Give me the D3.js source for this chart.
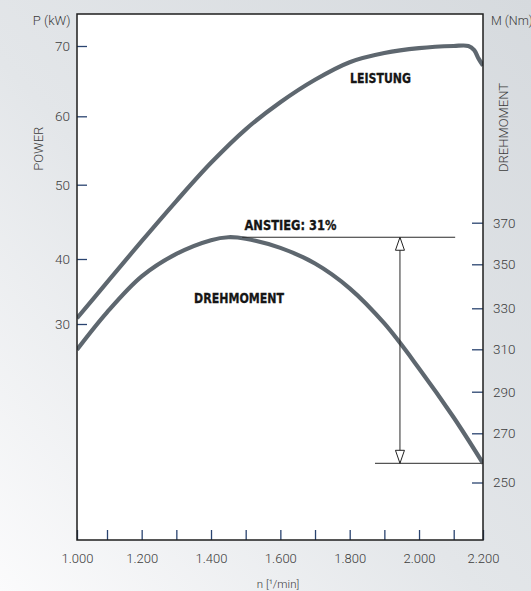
<!DOCTYPE html>
<html>
<head>
<meta charset="utf-8">
<script src="https://cdn.jsdelivr.net/npm/d3@7"></script>
<style>
  html, body { margin: 0; padding: 0; background: #fff; }
  svg { display: block; }
</style>
</head>
<body>
<svg id="viz" width="531" height="591"></svg>
<script>
// engine chart: power (P) and torque (M) over engine speed n

// ---- data ----
const rpmTicks = [1000, 1100, 1200, 1300, 1400, 1500, 1600, 1700, 1800, 1900, 2000, 2100, 2200];
const rpmLabels = { 1000: "1.000", 1200: "1.200", 1400: "1.400", 1600: "1.600", 1800: "1.800", 2000: "2.000", 2200: "2.200" };
const powerTicks = [30, 40, 50, 60, 70];
const torqueTicks = [250, 270, 290, 310, 330, 350, 370];

// LEISTUNG (kW)
const powerRpm = [1000, 1100, 1200, 1300, 1400, 1500, 1600, 1700, 1800, 1900, 2000, 2100, 2150, 2170, 2185, 2200];
const powerKw  = [30.9, 36.4, 42.4, 47.8, 53.2, 58.1, 62.0, 65.2, 67.7, 69.0, 69.7, 70.0, 70.0, 69.4, 68.2, 67.2];

// DREHMOMENT (Nm)
const torqueRpm = [1000, 1100, 1200, 1300, 1400, 1450, 1500, 1600, 1700, 1800, 1900, 2000, 2100, 2200];
const torqueNm  = [309.8, 328.0, 344.5, 355.0, 361.6, 363.0, 362.3, 357.9, 350.4, 339.1, 322.6, 301.0, 277.6, 257.8];

// torque rise annotation
const riseText = "ANSTIEG: 31%";
const riseTop = { nm: 363, from: 1490, to: 2105 };
const riseBottom = { nm: 257.8, from: 1873, to: 2200 };
const riseArrowRpm = 1945;

// ---- layout ----
const svg = d3.select("#viz");
const width = 531, height = 591;
const plot = { left: 77, right: 483, top: 14, bottom: 540 };

const lightFont = "Roboto, 'Liberation Sans', sans-serif";
const boldFont = "'DejaVu Sans Condensed', 'DejaVu Sans', sans-serif";

// scales (the drawing is not quite linear, so piecewise)
const x = d3.scaleLinear()
  .domain([1000, 1100, 2100, 2200])
  .range([plot.left, 107, 453.7, plot.right]);
const yP = d3.scaleLinear()
  .domain([30, 40, 50, 60, 70])
  .range([324, 259, 184.7, 116.3, 46]);
const yM = d3.scaleLinear()
  .domain([250, 270, 290, 310, 330, 350, 370])
  .range([482.5, 433.3, 391.7, 349.3, 308.3, 264.3, 222.7]);

const defs = svg.append("defs");

// background gradient
const bg = defs.append("linearGradient").attr("id", "bgGrad")
  .attr("x1", "0").attr("y1", "1").attr("x2", "1").attr("y2", "0");
bg.append("stop").attr("offset", "0%").attr("stop-color", "#fbfbfc");
bg.append("stop").attr("offset", "45%").attr("stop-color", "#e3e6e9");
bg.append("stop").attr("offset", "100%").attr("stop-color", "#d6dade");

svg.append("rect").attr("width", width).attr("height", height).attr("fill", "url(#bgGrad)");

// clip for curves
defs.append("clipPath").attr("id", "plotClip")
  .append("rect")
  .attr("x", plot.left).attr("y", plot.top)
  .attr("width", plot.right - plot.left).attr("height", plot.bottom - plot.top);

// hollow arrow head
defs.append("marker")
  .attr("id", "hollowArrow")
  .attr("viewBox", "-1 -6 15 12")
  .attr("refX", 13).attr("refY", 0)
  .attr("markerWidth", 15).attr("markerHeight", 12)
  .attr("markerUnits", "userSpaceOnUse")
  .attr("orient", "auto-start-reverse")
  .append("path")
  .attr("d", "M0,-4.5L13,0L0,4.5Z")
  .attr("fill", "#fff")
  .attr("stroke", "#222")
  .attr("stroke-width", 1);

// plot area
svg.append("rect")
  .attr("x", plot.left).attr("y", plot.top)
  .attr("width", plot.right - plot.left).attr("height", plot.bottom - plot.top)
  .attr("fill", "#fff");

// axes
const axisP = svg.append("g")
  .attr("transform", `translate(${plot.left},0)`)
  .call(d3.axisLeft(yP).tickValues(powerTicks).tickSize(-10).tickPadding(7));

const axisM = svg.append("g")
  .attr("transform", `translate(${plot.right},0)`)
  .call(d3.axisRight(yM).tickValues(torqueTicks).tickSize(-11).tickPadding(10));

const axisX = svg.append("g")
  .attr("transform", `translate(0,${plot.bottom})`)
  .call(d3.axisBottom(x).tickValues(rpmTicks).tickSize(-10).tickPadding(14)
    .tickFormat(d => rpmLabels[d] || ""));

[axisP, axisM, axisX].forEach(g => {
  g.select(".domain").remove();
  g.selectAll(".tick line").attr("stroke", "#2a4470").attr("stroke-width", 1.3);
  g.selectAll(".tick text")
    .attr("font-family", lightFont)
    .attr("font-weight", 300)
    .attr("font-size", "13.5px")
    .attr("fill", "#3c3c3c");
});
axisX.selectAll(".tick text").attr("font-size", "13px");

// curves
const line = d3.line()
  .x(d => x(d[0]))
  .y(d => d[1])
  .curve(d3.curveCatmullRom.alpha(0.5));

const curves = svg.append("g").attr("clip-path", "url(#plotClip)");

curves.append("path")
  .datum(powerRpm.map((r, i) => [r, yP(powerKw[i])]))
  .attr("d", line)
  .attr("fill", "none")
  .attr("stroke", "#5e676f")
  .attr("stroke-width", 4.2)
  .attr("stroke-linejoin", "round");

curves.append("path")
  .datum(torqueRpm.map((r, i) => [r, yM(torqueNm[i])]))
  .attr("d", line)
  .attr("fill", "none")
  .attr("stroke", "#5e676f")
  .attr("stroke-width", 4.2)
  .attr("stroke-linejoin", "round");

// torque rise annotation
const ann = svg.append("g").attr("stroke", "#2a2a2a").attr("stroke-width", 1.2);
ann.append("line")
  .attr("x1", x(riseTop.from)).attr("x2", x(riseTop.to))
  .attr("y1", yM(riseTop.nm)).attr("y2", yM(riseTop.nm));
ann.append("line")
  .attr("x1", x(riseBottom.from)).attr("x2", x(riseBottom.to))
  .attr("y1", yM(riseBottom.nm)).attr("y2", yM(riseBottom.nm))
  .attr("stroke", "#555");
ann.append("line")
  .attr("x1", x(riseArrowRpm)).attr("x2", x(riseArrowRpm))
  .attr("y1", yM(riseTop.nm)).attr("y2", yM(riseBottom.nm))
  .attr("stroke-width", 1)
  .attr("marker-start", "url(#hollowArrow)")
  .attr("marker-end", "url(#hollowArrow)");

// frame
svg.append("rect")
  .attr("x", plot.left).attr("y", plot.top)
  .attr("width", plot.right - plot.left).attr("height", plot.bottom - plot.top)
  .attr("fill", "none")
  .attr("stroke", "#1e1e1e")
  .attr("stroke-width", 1.5);

// bold curve labels
function boldLabel(txt, px, py, w) {
  svg.append("text")
    .attr("x", px).attr("y", py)
    .attr("font-family", boldFont)
    .attr("font-weight", "bold")
    .attr("font-size", "14px")
    .attr("fill", "#161616")
    .attr("stroke", "#161616")
    .attr("stroke-width", 0.3)
    .attr("textLength", w)
    .attr("lengthAdjust", "spacingAndGlyphs")
    .text(txt);
}
boldLabel("LEISTUNG", 350, 82.5, 61);
boldLabel(riseText, 244.5, 229.5, 92);
boldLabel("DREHMOMENT", 194, 302.5, 90);

// axis titles
function lightText(txt, px, py, anchor, size) {
  return svg.append("text")
    .attr("x", px).attr("y", py)
    .attr("text-anchor", anchor)
    .attr("font-family", lightFont)
    .attr("font-weight", 300)
    .attr("font-size", size)
    .attr("fill", "#3c3c3c")
    .text(txt);
}
lightText("P (kW)", 70.5, 24.5, "end", "13px");
lightText("M (Nm)", 491, 25, "start", "12.5px");
lightText("n [\u00b9/min]", 278, 588, "middle", "11.5px");

lightText("POWER", 0, 0, "middle", "13px")
  .attr("transform", "translate(43.3,148.7) rotate(-90)");
lightText("DREHMOMENT", 0, 0, "middle", "13px")
  .attr("transform", "translate(508.3,127.5) rotate(-90)");
</script>
</body>
</html>
